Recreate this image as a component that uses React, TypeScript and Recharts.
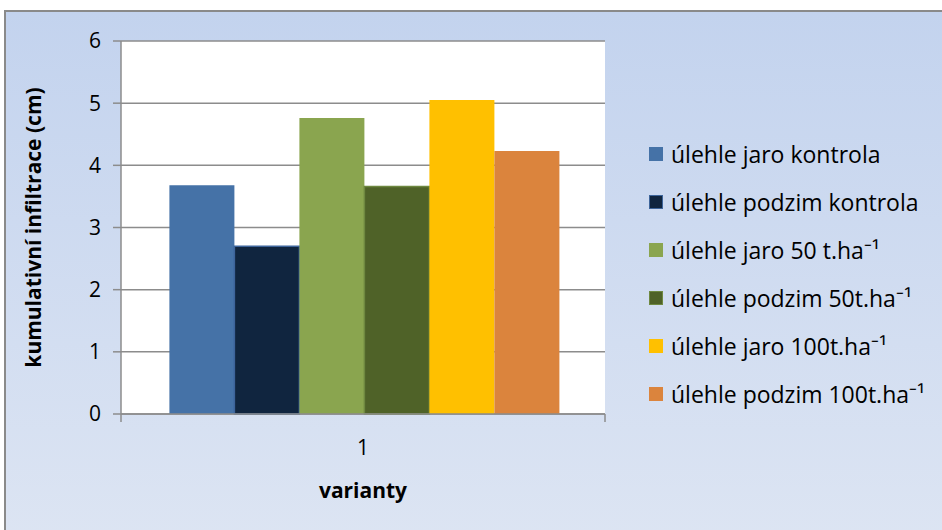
import * as Recharts from 'recharts';
import { BarChart, Bar, XAxis, YAxis, CartesianGrid } from 'recharts';

const categories = ['1'];
const seriesNames = [
  'úlehle jaro kontrola',
  'úlehle podzim kontrola',
  'úlehle jaro 50 t.ha⁻¹',
  'úlehle podzim 50t.ha⁻¹',
  'úlehle jaro 100t.ha⁻¹',
  'úlehle podzim 100t.ha⁻¹',
];
const seriesValues = [3.68, 2.7, 4.76, 3.66, 5.05, 4.23];
const seriesColors = ['#4572A7', '#10253F', '#8AA54F', '#4F6228', '#FFC000', '#DB843D'];
const seriesStrokes = ['none', '#3D649A', 'none', '#6E8840', 'none', 'none'];
const yTicks = [0, 1, 2, 3, 4, 5, 6];

const FONT = '"Open Sans", sans-serif';
const GRID = '#8C8C8C';

const data = categories.map((c) => {
  const row: Record<string, string | number> = { name: c };
  seriesNames.forEach((s, i) => {
    row[`s${i}`] = seriesValues[i];
  });
  return row;
});

// tick marks at both ends of the category axis, reaching below the baseline
function EdgeTicks() {
  const hook = (Recharts as any).usePlotArea || (Recharts as any).useOffset;
  const area = hook ? hook() : null;
  if (!area) return null;
  const left = area.x ?? area.left;
  const top = area.y ?? area.top;
  const width = area.width ?? 942 - area.left - area.right;
  const height = area.height ?? 530 - area.top - area.bottom;
  const bottom = top + height;
  return (
    <g>
      {[left, left + width].map((x) => (
        <line key={x} x1={x} x2={x} y1={bottom} y2={bottom + 8} stroke={GRID} strokeWidth={1.5} />
      ))}
    </g>
  );
}

function YTitle({ viewBox }: any) {
  const cx = 33;
  const cy = viewBox.y + viewBox.height / 2;
  return (
    <text
      x={cx}
      y={cy}
      transform={`rotate(-90 ${cx} ${cy})`}
      textAnchor="middle"
      dominantBaseline="central"
      fontFamily={FONT}
      fontWeight="bold"
      fontSize={21}
      fill="#000"
    >
      kumulativní infiltrace (cm)
    </text>
  );
}

function Legend() {
  return (
    <div style={{ position: 'absolute', left: 649, top: 130, fontFamily: FONT, fontSize: 23, color: '#000' }}>
      {seriesNames.map((s, i) => (
        <div key={s} style={{ display: 'flex', alignItems: 'center', height: 48 }}>
          <span
            style={{
              width: 14,
              height: 14,
              flexShrink: 0,
              background: seriesColors[i],
              boxSizing: 'border-box',
              border: seriesStrokes[i] === 'none' ? 'none' : `1.5px solid ${seriesStrokes[i]}`,
              marginRight: 8,
            }}
          />
          <span style={{ whiteSpace: 'nowrap' }}>{s}</span>
        </div>
      ))}
    </div>
  );
}

export default function App() {
  return (
    <div style={{ position: 'absolute', left: 0, top: 0, width: 942, height: 530, overflow: 'hidden' }}>
      <div
        style={{
          position: 'absolute',
          left: 4,
          top: 10,
          width: 960,
          height: 540,
          borderTop: '2px solid #8A8A8A',
          borderLeft: '2px solid #8A8A8A',
          background: 'linear-gradient(to bottom, #C3D3EE 0%, #DDE5F3 100%)',
        }}
      />
      <div style={{ position: 'absolute', left: 0, top: 0 }}>
        <BarChart
          width={942}
          height={530}
          data={data}
          margin={{ top: 41, right: 337, bottom: 56, left: 0 }}
          barCategoryGap="10%"
          barGap={0}
        >
          <CartesianGrid vertical={false} stroke={GRID} strokeWidth={1.5} fill="#FFFFFF" fillOpacity={1} />
          <XAxis
            dataKey="name"
            height={60}
            axisLine={{ stroke: GRID, strokeWidth: 1.5 }}
            tickLine={false}
            tickSize={8}
            tickMargin={18}
            tick={{ fill: '#000', fontSize: 21, fontFamily: FONT }}
            label={{ value: 'varianty', position: 'bottom', offset: 9, fill: '#000', fontSize: 21, fontWeight: 'bold', fontFamily: FONT }}
          />
          <YAxis
            width={121}
            domain={[0, 6]}
            ticks={yTicks}
            interval={0}
            axisLine={{ stroke: GRID, strokeWidth: 1.5 }}
            tickLine={{ stroke: GRID, strokeWidth: 1.5 }}
            tickSize={8}
            tickMargin={12}
            tick={{ fill: '#000', fontSize: 21, fontFamily: FONT }}
            label={<YTitle />}
          />
          {seriesNames.map((s, i) => (
            <Bar
              key={s}
              dataKey={`s${i}`}
              name={s}
              fill={seriesColors[i]}
              stroke={seriesStrokes[i]}
              strokeWidth={1.5}
              isAnimationActive={false}
            />
          ))}
          <EdgeTicks />
        </BarChart>
      </div>
      <Legend />
    </div>
  );
}
